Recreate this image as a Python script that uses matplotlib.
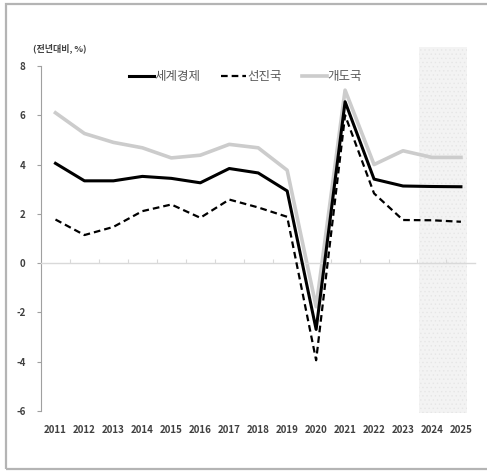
import matplotlib
matplotlib.use("Agg")
import matplotlib.pyplot as plt
import matplotlib.transforms as mtransforms
from matplotlib.patches import Rectangle

plt.rcParams['font.family'] = ['Liberation Sans Narrow', 'Noto Sans CJK KR', 'DejaVu Sans']
plt.rcParams['hatch.linewidth'] = 0.5

years = [2011, 2012, 2013, 2014, 2015, 2016, 2017, 2018, 2019, 2020, 2021, 2022, 2023, 2024, 2025]
world = [4.05, 3.34, 3.34, 3.52, 3.44, 3.26, 3.84, 3.66, 2.93, -2.69, 6.55, 3.41, 3.13, 3.11, 3.10]
advanced = [1.77, 1.14, 1.47, 2.11, 2.38, 1.84, 2.58, 2.26, 1.88, -3.94, 6.00, 2.83, 1.75, 1.74, 1.68]
emerging = [6.10, 5.26, 4.90, 4.68, 4.27, 4.38, 4.82, 4.68, 3.77, -1.77, 7.02, 4.00, 4.56, 4.29, 4.29]
names = ['세계경제', '선진국', '개도국']
yticks = [-6, -4, -2, 0, 2, 4, 6, 8]
forecast_start, forecast_end = 2023.55, 2025.2

fig = plt.figure(figsize=(4.87, 4.72), dpi=100)
ax = fig.add_axes([0.0842, 0.1292, 0.892, 0.731])

# outer frame
fig.patches.append(Rectangle((6 / 487, 3 / 472), 1.1, 1 - 7 / 472, transform=fig.transFigure,
                             fill=False, edgecolor='#b4b4b4', linewidth=1.6))

# shaded forecast years
ax.add_patch(Rectangle((forecast_start, -6.1), forecast_end - forecast_start, 8.78 + 6.1,
                       facecolor='#f3f3f3', edgecolor='#e6e6e6', hatch='....', linewidth=0,
                       clip_on=False, zorder=0))

ax.plot(years, emerging, color='#cccccc', linewidth=2.6, label=names[2], zorder=2)
ax.plot(years, world, color='black', linewidth=2.2, label=names[0], zorder=3)
ax.plot(years, advanced, color='black', linewidth=1.6, linestyle=(0, (3, 1.8)),
        label=names[1], zorder=4)

ax.set_xlim(2010.5, 2025.5)
ax.set_ylim(-6, 8)
ax.set_yticks(yticks)
ax.set_yticklabels([str(v) for v in yticks], fontsize=7, fontweight='bold', color='#404040')
ax.tick_params(axis='y', direction='out', length=3, width=0.8, color='#a0a0a0', pad=8)

ax.spines['top'].set_visible(False)
ax.spines['right'].set_visible(False)
ax.spines['left'].set_color('#a0a0a0')
ax.spines['left'].set_linewidth(0.8)
ax.spines['bottom'].set_position(('data', 0))
ax.spines['bottom'].set_color('#d9d9d9')
ax.spines['bottom'].set_linewidth(1.0)

# category ticks between years, labels kept at the bottom
ax.set_xticks([y + 0.5 for y in years[:-1]])
ax.set_xticklabels([])
ax.tick_params(axis='x', direction='in', length=3, width=0.8, color='#d9d9d9')
trans = mtransforms.blended_transform_factory(ax.transData, ax.transAxes)
for y in years:
    ax.text(y, -0.055, str(y), transform=trans, ha='center', va='center',
            fontsize=7, fontweight='bold', color='#404040')

fig.text(33 / 487, 1 - 48 / 472, '(전년대비, %)', ha='left', va='center',
         fontsize=6.5, fontweight='bold', color='#404040',
         family=['Noto Sans CJK KR', 'DejaVu Sans'])

handles, labels = ax.get_legend_handles_labels()
order = [1, 2, 0]
leg = fig.legend([handles[i] for i in order], [labels[i] for i in order],
                 loc='center', bbox_to_anchor=(0.504, 0.8375), ncol=3, frameon=False,
                 handlelength=2.0, handletextpad=0.1, columnspacing=1.6,
                 prop={'family': ['Noto Sans CJK KR', 'DejaVu Sans'], 'size': 9})
for t in leg.get_texts():
    t.set_color('#595959')

fig.savefig('out.png', dpi=100)
